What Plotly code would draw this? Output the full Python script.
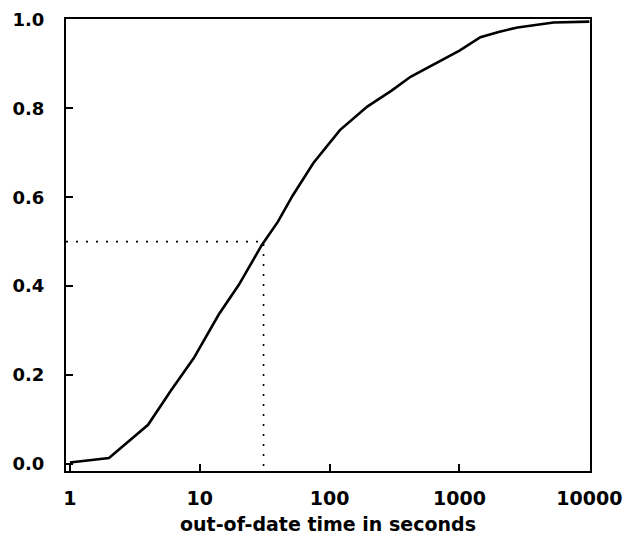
import plotly.graph_objects as go

# Data (cumulative fraction vs out-of-date time)
time_s = [1, 2, 4, 6, 9, 14, 20, 30, 40, 52, 75, 120, 195, 300, 420, 710, 1000, 1450, 2000, 2800, 5300, 10000]
fraction = [0.003, 0.013, 0.088, 0.165, 0.238, 0.336, 0.403, 0.492, 0.545, 0.604, 0.677,
            0.751, 0.804, 0.84, 0.871, 0.906, 0.93, 0.96, 0.972, 0.982, 0.993, 0.995]

median_time = 31
median_frac = 0.5

x_tickvals = [1, 10, 100, 1000, 10000]
x_ticktext = ["1", "10", "100", "1000", "10000"]
y_tickvals = [0.0, 0.2, 0.4, 0.6, 0.8, 1.0]
y_ticktext = ["0.0", "0.2", "0.4", "0.6", "0.8", "1.0"]

x_log_range = [-0.03, 4.005]
y_range = [-0.016, 1.001]

FONT = "DejaVu Sans"
FS = 19

fig = go.Figure()

# dotted median guide lines
fig.add_trace(go.Scatter(
    x=[10 ** x_log_range[0], median_time, median_time],
    y=[median_frac, median_frac, y_range[0]],
    mode="lines",
    line=dict(color="black", width=1.6, dash="2px,8px"),
    hoverinfo="skip", showlegend=False,
))

fig.add_trace(go.Scatter(
    x=time_s, y=fraction, mode="lines",
    line=dict(color="black", width=2.6),
    showlegend=False,
))

# page body has an 8px margin, so the figure is sized to end at the window edge
fig.update_layout(
    width=629, height=534,
    margin=dict(l=58, r=47, t=11, b=71),
    paper_bgcolor="white", plot_bgcolor="white",
    font=dict(family=FONT, size=FS, color="black", weight="bold"),
)

fig.update_xaxes(
    type="log", range=x_log_range, automargin=False,
    tickvals=x_tickvals, ticktext=x_ticktext,
    ticks="inside", ticklen=7, tickwidth=1.5, tickcolor="black",
    showline=True, linecolor="black", linewidth=2, mirror=True,
    showgrid=False, zeroline=False, ticklabelstandoff=9,
    ticklabeloverflow="allow",
    title=dict(text="out-of-date time in seconds", font=dict(family=FONT, size=FS, weight="bold"), standoff=10),
    tickfont=dict(family=FONT, size=FS, weight="bold"),
)
fig.update_yaxes(
    range=y_range, automargin=False,
    tickvals=y_tickvals, ticktext=y_ticktext,
    ticks="inside", ticklen=7, tickwidth=1.5, tickcolor="black",
    showline=True, linecolor="black", linewidth=2, mirror=True,
    showgrid=False, zeroline=False, ticklabelstandoff=16,
    ticklabeloverflow="allow",
    tickfont=dict(family=FONT, size=18, weight="bold"),
)

fig.write_html("out.html")
